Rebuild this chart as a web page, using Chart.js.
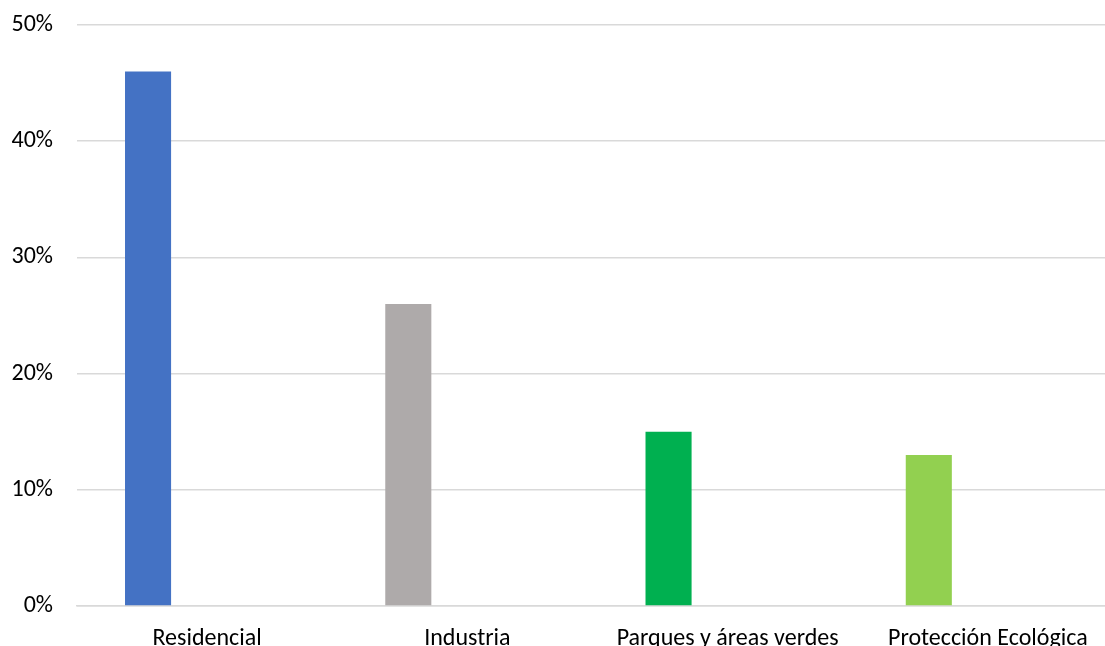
<!DOCTYPE html>
<html>
<head>
<meta charset="utf-8">
<script src="https://cdn.jsdelivr.net/npm/chart.js@4/dist/chart.umd.min.js"></script>
<style>
  html, body { margin: 0; padding: 0; background: #fff; overflow: hidden; }
  #wrap { position: absolute; left: 0; top: 0; width: 1118px; height: 652px; }
</style>
</head>
<body>
<div id="wrap"><canvas id="chart"></canvas></div>
<script>
// ----------------------
// DATA
// ----------------------
const categories = ["Residencial", "Industria", "Parques y áreas verdes", "Protección Ecológica"];
const shares = [46, 26, 15, 13];
const barColors = ["#4472C4", "#AEAAAA", "#00B050", "#92D050"];
const yTicks = [0, 10, 20, 30, 40, 50];

const font = "Calibri, Carlito, 'Liberation Sans', sans-serif";

// ----------------------
// CHART
// ----------------------
new Chart(document.getElementById("chart"), {
  type: "bar",
  data: {
    labels: categories,
    datasets: [
      { data: shares, backgroundColor: barColors, barPercentage: 0.39, categoryPercentage: 0.908 },
      // empty second series keeps the bars in the left half of each category
      { data: categories.map(() => null), backgroundColor: "#ffffff", barPercentage: 0.39, categoryPercentage: 0.908 }
    ]
  },
  options: {
    responsive: true,
    maintainAspectRatio: false,
    animation: false,
    layout: { padding: { top: 25, right: 0, left: 0, bottom: 0 } },
    plugins: {
      legend: { display: false },
      tooltip: { enabled: false }
    },
    scales: {
      x: {
        grid: { display: false },
        border: { display: true, color: "#d9d9d9", width: 1.5 },
        ticks: {
          color: "#000",
          font: { family: font, size: 24 },
          padding: 11,
          maxRotation: 0,
          autoSkip: false
        },
        afterFit: s => {
          s.height = 46;
          s.paddingLeft = 0;
          s.paddingRight = 0;
        }
      },
      y: {
        min: 0,
        max: 50,
        afterBuildTicks: s => { s.ticks = yTicks.map(v => ({ value: v })); },
        grid: { color: "#d9d9d9", lineWidth: 1.5, drawTicks: false },
        border: { display: false },
        ticks: {
          color: "#000",
          font: { family: font, size: 24 },
          padding: 24,
          callback: v => v + "%"
        },
        afterFit: s => {
          s.width = 77;
          s.paddingTop = 0;
          s.paddingBottom = 0;
        }
      }
    }
  }
});
</script>
</body>
</html>
